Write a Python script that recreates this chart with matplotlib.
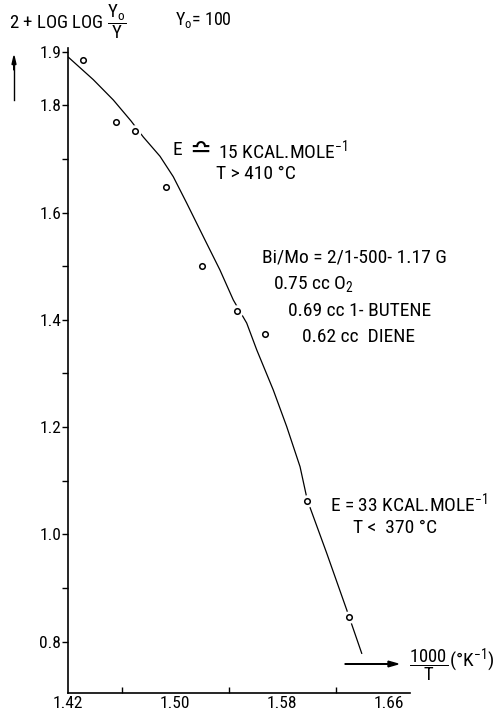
import matplotlib
matplotlib.use('Agg')
import matplotlib.pyplot as plt
from matplotlib import font_manager

# measured points (1000/T, 2 + log log Y0/Y)
inv_t = [1.431, 1.456, 1.470, 1.493, 1.520, 1.546, 1.567, 1.599, 1.630]
loglog = [1.885, 1.769, 1.753, 1.648, 1.501, 1.417, 1.374, 1.062, 0.846]

# hand-drawn fitted curve
curve_x = [1.4202, 1.4389, 1.4539, 1.4671, 1.4763, 1.4888, 1.4987, 1.5087, 1.5224,
           1.5336, 1.5436, 1.5536, 1.5611, 1.5735, 1.5835, 1.5935, 1.5989, 1.6134,
           1.6284, 1.6396]
curve_y = [1.890, 1.848, 1.810, 1.771, 1.741, 1.705, 1.667, 1.618, 1.549,
           1.493, 1.437, 1.394, 1.344, 1.269, 1.201, 1.126, 1.064, 0.965,
           0.859, 0.778]

x_labels = [1.42, 1.50, 1.58, 1.66]
x_minor = [1.46, 1.54, 1.62]
y_labels = [0.8, 1.0, 1.2, 1.4, 1.6, 1.8, 1.9]
y_minor = [0.9, 1.1, 1.3, 1.5, 1.7]

names = {f.name for f in font_manager.fontManager.ttflist}
fam = [f for f in ['Liberation Sans Narrow', 'DejaVu Sans Condensed', 'Roboto Condensed'] if f in names]
main_font = (fam + ['DejaVu Sans'])[0]
plt.rcParams['font.family'] = fam + ['DejaVu Sans']
plt.rcParams['mathtext.fontset'] = 'custom'
plt.rcParams['mathtext.rm'] = main_font
plt.rcParams['mathtext.it'] = main_font

W, H = 499, 713
fig = plt.figure(figsize=(W / 100, H / 100), dpi=100)
ax = fig.add_axes([68 / W, 1 - 693 / H, (410 - 68) / W, (693 - 48) / H])

ax.plot(curve_x, curve_y, color='black', lw=0.9, zorder=2)
ax.plot(inv_t, loglog, 'o', ms=8, color='white', zorder=3)
ax.plot(inv_t, loglog, 'o', ms=4, mfc='white', mec='black', mew=1.1, zorder=4)

ax.set_xlim(1.42, 1.6757)
ax.set_ylim(0.704, 1.907)
for s in ['top', 'right']:
    ax.spines[s].set_visible(False)
for s in ['left', 'bottom']:
    ax.spines[s].set_linewidth(1.2)

ax.set_xticks(x_labels)
ax.set_xticklabels(['%.2f' % v for v in x_labels])
ax.set_xticks(x_minor, minor=True)
ax.tick_params(axis='x', which='major', length=0, pad=2, labelsize=12.5)
ax.tick_params(axis='x', which='minor', direction='in', length=4, width=1)
ax.set_yticks(y_labels)
ax.set_yticklabels(['%.1f' % v for v in y_labels])
ax.set_yticks(y_minor, minor=True)
ax.tick_params(axis='y', which='both', direction='out', length=4, width=1, pad=1, labelsize=12.5)


def ftext(px, py, s, **kw):
    kw.setdefault('fontsize', 14)
    kw.setdefault('va', 'center')
    fig.text(px / W, 1 - py / H, s, **kw)


ftext(9, 22, r'2 + LOG LOG $\dfrac{Y_o}{Y}$', fontsize=13.5)
ftext(175, 20, r'Y$_\mathregular{o}$= 100', fontsize=13)
ftext(173, 150, 'E')
ftext(189, 150, '≏', fontsize=19, family='DejaVu Sans')
ftext(218, 150, '15 KCAL.MOLE$^{-1}$')
ftext(216, 174, 'T > 410 °C')
ftext(262, 257, 'Bi/Mo = 2/1-500- 1.17 G')
ftext(273, 284, '0.75 cc O$_2$')
ftext(288, 311, '0.69 cc 1- BUTENE')
ftext(302, 337, '0.62 cc  DIENE')
ftext(330, 503, 'E = 33 KCAL.MOLE$^{-1}$')
ftext(353, 528, 'T <  370 °C')
ftext(409, 665, r'$\dfrac{1000}{T}$', fontsize=13.5)
ftext(449, 660, '(°K$^{-1}$)')

fig.add_artist(plt.Line2D([14 / W, 14 / W], [1 - 100 / H, 1 - 62 / H], color='black', lw=1))
fig.add_artist(matplotlib.patches.FancyArrow(14 / W, 1 - 70 / H, 0, 14 / H, width=0.0008,
                                             head_width=0.008, head_length=0.012,
                                             length_includes_head=True, color='black'))
fig.add_artist(matplotlib.patches.FancyArrow(345 / W, 1 - 664 / H, 53 / W, 0, width=0.0008,
                                             head_width=0.008, head_length=0.02,
                                             length_includes_head=True, color='black'))

fig.savefig('out.png', dpi=100)
